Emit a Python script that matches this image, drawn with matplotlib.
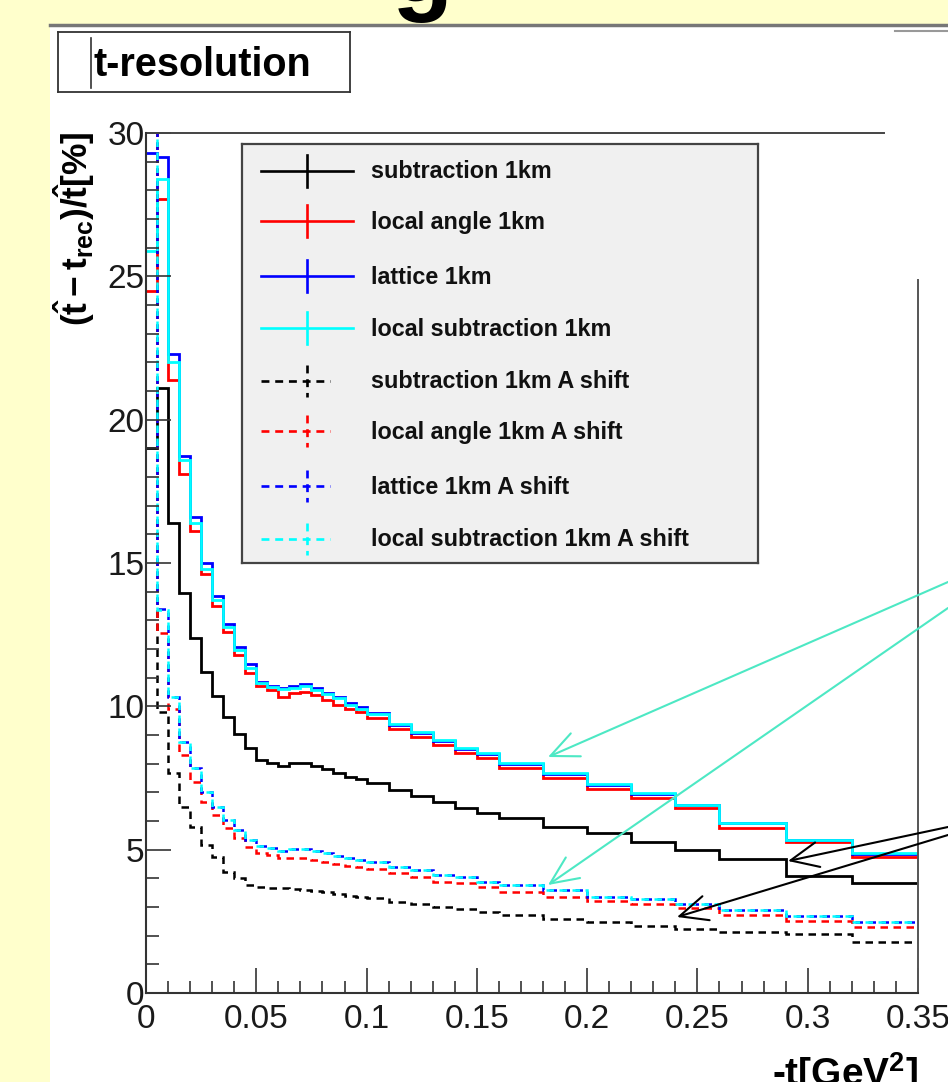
import matplotlib
matplotlib.use('Agg')
import matplotlib.pyplot as plt
from matplotlib.patches import Rectangle, FancyArrowPatch
from matplotlib.lines import Line2D
from matplotlib.ticker import MultipleLocator, FuncFormatter

# bin edges in -t [GeV^2] (variable width)
edges = [0.0, 0.005, 0.01, 0.015, 0.02, 0.025, 0.03, 0.035, 0.04, 0.045, 0.05,
         0.055, 0.06, 0.065, 0.07, 0.075, 0.08, 0.085, 0.09, 0.095, 0.1,
         0.11, 0.12, 0.13, 0.14, 0.15, 0.16, 0.18, 0.20, 0.22, 0.24, 0.26,
         0.29, 0.32, 0.35]

# resolution in %, one value per bin
sub_1km = [19.0, 21.1, 16.4, 13.95, 12.4, 11.2, 10.35, 9.63, 9.03, 8.54, 8.13, 8.02,
           7.92, 8.02, 8.02, 7.92, 7.8, 7.68, 7.55, 7.45, 7.32, 7.08, 6.87, 6.67,
           6.45, 6.27, 6.1, 5.8, 5.57, 5.28, 4.99, 4.67, 4.08, 3.83]
angle_1km = [24.5, 27.7, 21.4, 18.1, 16.1, 14.6, 13.5, 12.6, 11.8, 11.15, 10.7, 10.57,
             10.33, 10.45, 10.5, 10.4, 10.22, 10.04, 9.9, 9.8, 9.59, 9.2, 8.94, 8.65,
             8.37, 8.19, 7.84, 7.5, 7.1, 6.8, 6.45, 5.76, 5.28, 4.76]
lattice_1km = [29.3, 29.15, 22.3, 18.75, 16.6, 15.0, 13.85, 12.87, 12.07, 11.47, 10.85,
               10.72, 10.63, 10.7, 10.77, 10.63, 10.45, 10.33, 10.12, 9.97, 9.78, 9.36,
               9.08, 8.8, 8.52, 8.35, 8.0, 7.65, 7.27, 6.94, 6.55, 5.92, 5.33, 4.86]
locsub_1km = [25.9, 28.4, 22.0, 18.6, 16.4, 14.8, 13.7, 12.77, 11.96, 11.33, 10.8,
              10.68, 10.6, 10.65, 10.7, 10.57, 10.43, 10.29, 10.06, 9.92, 9.75, 9.38,
              9.1, 8.82, 8.54, 8.37, 8.02, 7.67, 7.28, 6.96, 6.56, 5.93, 5.34, 4.88]
sub_shift = [35.0, 9.8, 7.67, 6.5, 5.8, 5.16, 4.75, 4.22, 4.0, 3.77, 3.7, 3.65, 3.65,
             3.63, 3.6, 3.57, 3.52, 3.45, 3.4, 3.36, 3.31, 3.18, 3.1, 3.0, 2.93, 2.83,
             2.72, 2.58, 2.46, 2.34, 2.23, 2.13, 2.06, 1.78]
angle_shift = [35.0, 12.55, 9.9, 8.3, 7.37, 6.67, 6.2, 5.75, 5.4, 5.1, 4.88, 4.81, 4.7,
               4.7, 4.7, 4.64, 4.58, 4.5, 4.42, 4.38, 4.33, 4.18, 4.05, 3.87, 3.83,
               3.7, 3.52, 3.36, 3.2, 3.1, 2.96, 2.72, 2.51, 2.3]
lattice_shift = [35.0, 13.4, 10.33, 8.75, 7.85, 7.02, 6.5, 6.03, 5.68, 5.34, 5.13, 5.05,
                 4.96, 5.02, 5.02, 4.96, 4.88, 4.78, 4.7, 4.64, 4.57, 4.4, 4.29, 4.12,
                 4.05, 3.87, 3.77, 3.6, 3.36, 3.28, 3.1, 2.9, 2.69, 2.48]
locsub_shift = [35.0, 13.35, 10.33, 8.75, 7.85, 7.02, 6.5, 6.03, 5.68, 5.34, 5.13, 5.05,
                4.96, 5.02, 5.02, 4.96, 4.88, 4.78, 4.7, 4.64, 4.57, 4.4, 4.29, 4.12,
                4.05, 3.87, 3.77, 3.6, 3.36, 3.28, 3.1, 2.9, 2.69, 2.48]

labels = ['subtraction 1km', 'local angle 1km', 'lattice 1km', 'local subtraction 1km',
          'subtraction 1km A shift', 'local angle 1km A shift', 'lattice 1km A shift',
          'local subtraction 1km A shift']
colors = ['black', 'red', 'blue', 'cyan', 'black', 'red', 'blue', 'cyan']
series = [sub_1km, angle_1km, lattice_1km, locsub_1km,
          sub_shift, angle_shift, lattice_shift, locsub_shift]

W, H = 948, 1082


def fx(x):
    return x / W


def fy(y):
    return 1 - y / H


plt.rcParams['font.family'] = ['Liberation Sans', 'DejaVu Sans']
plt.rcParams['mathtext.fontset'] = 'custom'
plt.rcParams['mathtext.rm'] = 'Liberation Sans'
plt.rcParams['mathtext.bf'] = 'Liberation Sans:bold'
plt.rcParams['mathtext.it'] = 'Liberation Sans:italic'

fig = plt.figure(figsize=(9.48, 10.82), dpi=100, facecolor='#FFFFCC')

# white slide panel + top rule
fig.patches.append(Rectangle((fx(50), 0), 1 - fx(50), fy(27), transform=fig.transFigure,
                             facecolor='white', edgecolor='none', zorder=-5))
fig.add_artist(Line2D([fx(50), 1], [fy(25), fy(25)], color='#777777', lw=2.5))
fig.add_artist(Line2D([fx(895), 1], [fy(31), fy(31)], color='#999999', lw=1.5))
fig.text(fx(422), fy(2), 'g', fontsize=72, fontweight='bold', ha='center', va='baseline')

# title box
tb = fig.add_axes([fx(58), fy(92), fx(350) - fx(58), fy(32) - fy(92)])
tb.set_xlim(58, 350)
tb.set_ylim(92, 32)
tb.set_xticks([])
tb.set_yticks([])
for s in tb.spines.values():
    s.set_color('#333333')
    s.set_linewidth(1.3)
tb.plot([91, 91], [38, 88], color='#333333', lw=1.2)
tb.text(93, 65, 't-resolution', fontsize=28.5, fontweight='bold', va='center', ha='left')

# main plot
ax = fig.add_axes([fx(146), fy(993), fx(918) - fx(146), fy(133) - fy(993)])
ax.set_facecolor('white')
for vals, c in zip(series[:4], colors[:4]):
    ax.stairs(vals, edges, baseline=None, color=c, lw=2.0)
ax.stairs(sub_shift, edges, baseline=None, color='black', lw=1.8, linestyle=(0, (3, 2.2)))
ax.stairs(angle_shift, edges, baseline=None, color='red', lw=1.8, linestyle=(0, (3, 2.2)))
ax.stairs(lattice_shift, edges, baseline=None, color='blue', lw=1.8, linestyle=(0, (3, 2.2)))
ax.stairs(locsub_shift, edges, baseline=None, color='cyan', lw=1.8, linestyle=(1.2, (3, 2.2)))

ax.set_xlim(0, 0.35)
ax.set_ylim(0, 30)
ax.xaxis.set_major_locator(MultipleLocator(0.05))
ax.xaxis.set_minor_locator(MultipleLocator(0.01))
ax.yaxis.set_major_locator(MultipleLocator(5))
ax.yaxis.set_minor_locator(MultipleLocator(1))
ax.xaxis.set_major_formatter(FuncFormatter(lambda v, p: '%g' % round(v, 3)))
ax.yaxis.set_major_formatter(FuncFormatter(lambda v, p: '%g' % v))
ax.tick_params(which='both', direction='in', color='#333333', width=1.2,
               labelsize=24, labelcolor='#1a1a1a')
ax.tick_params(which='major', length=18)
ax.tick_params(which='minor', length=9)
ax.tick_params(axis='x', pad=8)
ax.tick_params(axis='y', pad=1)
ax.spines['top'].set_visible(False)
ax.spines['right'].set_visible(False)
for s in ['left', 'bottom']:
    ax.spines[s].set_color('#333333')
    ax.spines[s].set_linewidth(1.5)
ax.plot([0, 0.956], [1, 1], transform=ax.transAxes, clip_on=False, color='#444444', lw=1.4)
ax.plot([1, 1], [0, 0.829], transform=ax.transAxes, clip_on=False, color='#555555', lw=1.4)

fig.text(fx(74), fy(131), r'$\mathbf{(\hat{t}-t_{rec})/\hat{t}[\%]}$', rotation=90,
         ha='center', va='top', fontsize=25.5)
fig.text(fx(918), fy(1086), '-t[GeV$^{\\mathbf{2}}$]', fontweight='bold', fontsize=28,
         ha='right', va='baseline')

# legend box
lg = fig.add_axes([fx(242), fy(563), fx(758) - fx(242), fy(144) - fy(563)])
lg.set_xlim(242, 758)
lg.set_ylim(563, 144)
lg.set_facecolor('#F0F0F0')
lg.set_xticks([])
lg.set_yticks([])
for s in lg.spines.values():
    s.set_color('#444444')
    s.set_linewidth(1.6)
rows = [171, 221, 276, 328, 381, 431, 486, 539]
for i, (lab, c, yy) in enumerate(zip(labels, colors, rows)):
    ls = '-' if i < 4 else (0, (3, 2.2))
    x1 = 353 if i < 4 else 330
    lg.plot([261, x1], [yy, yy], color=c, lw=1.9, linestyle=ls)
    lg.plot([307, 307], [yy - 16, yy + 16], color=c, lw=1.9, linestyle=ls)
    lg.text(371, yy + 1, lab, fontsize=16.8, fontweight='bold', va='center', ha='left', color='#111111')

# slide annotation arrows
arrows = [((948, 582), (548, 757), '#4DE8C4'),
          ((948, 608), (548, 885), '#4DE8C4'),
          ((948, 827), (788, 861), 'black'),
          ((948, 835), (677, 917), 'black')]
for a, b, c in arrows:
    fig.add_artist(FancyArrowPatch((fx(a[0]), fy(a[1])), (fx(b[0]), fy(b[1])),
                                   transform=fig.transFigure, arrowstyle='->,head_length=1.0,head_width=0.45',
                                   mutation_scale=20, color=c, lw=1.5, shrinkA=0, shrinkB=0, zorder=10))

fig.savefig('out.png', dpi=100, facecolor=fig.get_facecolor())
